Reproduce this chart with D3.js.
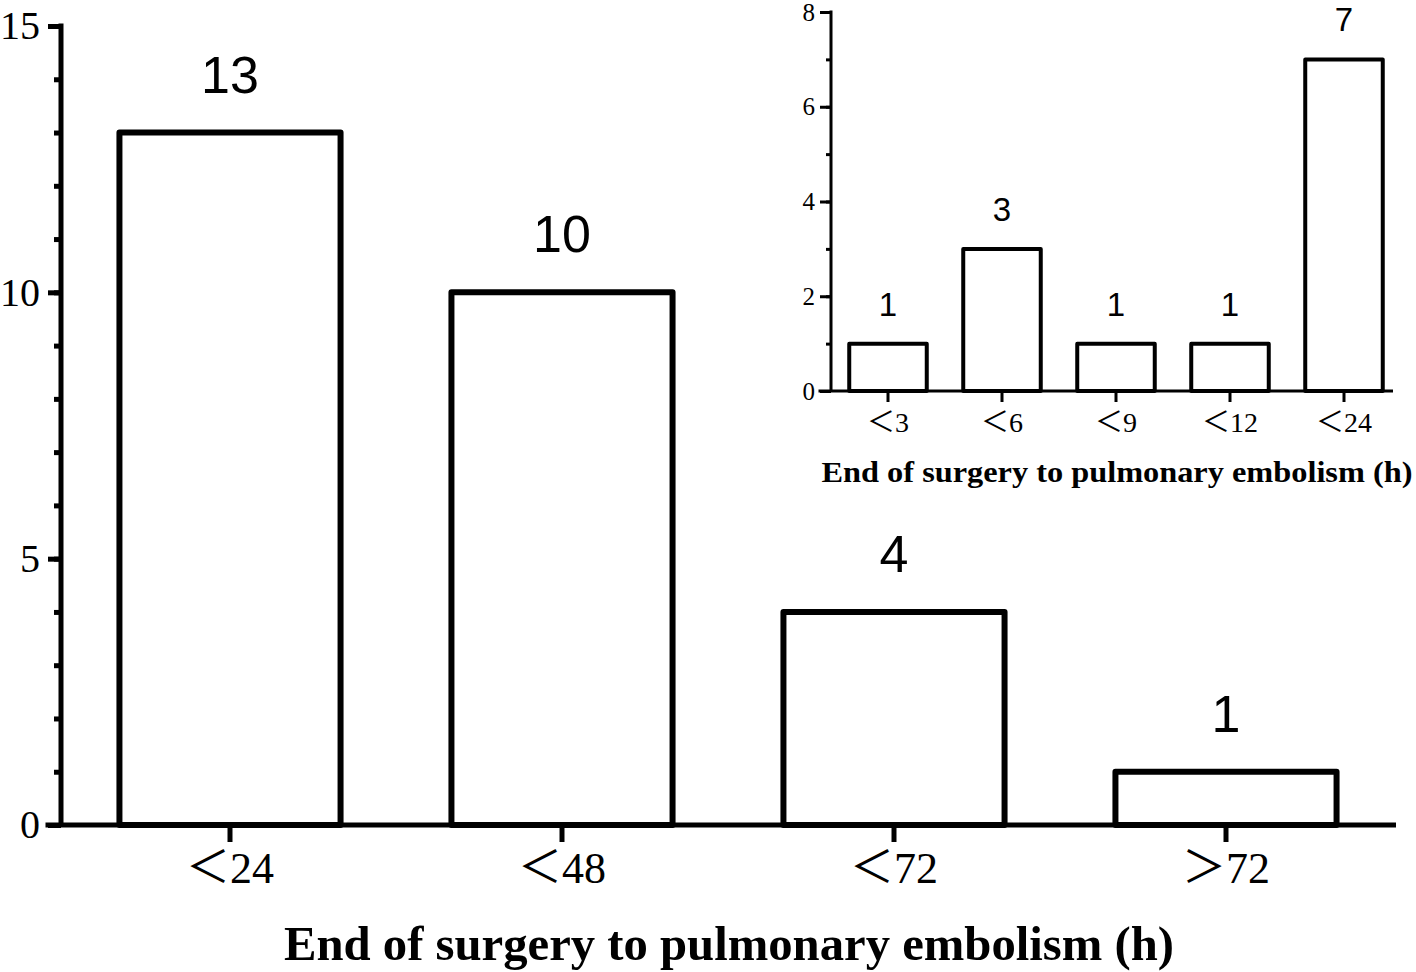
<!DOCTYPE html>
<html><head><meta charset="utf-8">
<script src="https://cdn.jsdelivr.net/npm/d3@7"></script>
<style>body{margin:0;background:#fff}</style></head><body>
<svg id="c" width="1416" height="972"></svg>
<script>
const mainCategories = ["＜24", "＜48", "＜72", "＞72"];
const mainValues = [13, 10, 4, 1];
const mainYTicks = [0, 5, 10, 15];
const insetCategories = ["＜3", "＜6", "＜9", "＜12", "＜24"];
const insetValues = [1, 3, 1, 1, 7];
const insetYTicks = [0, 2, 4, 6, 8];
const xTitle = "End of surgery to pulmonary embolism (h)";

const svg = d3.select("#c");
svg.append("rect").attr("width", 1416).attr("height", 972).attr("fill", "#fff");

function panel(o) {
  const g = svg.append("g");
  const x = d3.scaleBand().domain(o.cats).range(o.xr).paddingInner(o.pin).paddingOuter(o.pin / 2);
  const y = d3.scaleLinear().domain(o.yd).range(o.yr);

  // minor ticks
  const minor = g.append("g").attr("transform", `translate(${o.ax},0)`)
    .call(d3.axisLeft(y).tickValues(d3.range(o.yd[0], o.yd[1] + 1, o.minorStep)).tickSize(o.minorSize).tickFormat("").tickSizeOuter(0));
  minor.select(".domain").remove();
  minor.selectAll(".tick line").attr("stroke", "#000").attr("stroke-width", o.axisW);

  const major = g.append("g").attr("transform", `translate(${o.ax},0)`)
    .call(d3.axisLeft(y).tickValues(o.yticks).tickSize(o.majorSize).tickPadding(o.yPad).tickSizeOuter(0));
  major.select(".domain").attr("stroke", "#000").attr("stroke-width", o.axisW)
    .attr("d", `M0,${o.yr[0]}V${o.yr[1] - o.axisW / 2}`);
  major.selectAll(".tick line").attr("stroke", "#000").attr("stroke-width", o.axisW);
  major.selectAll(".tick text").attr("font-family", "'Liberation Serif', 'DejaVu Serif', serif")
    .attr("font-size", o.yFont).attr("fill", "#000");

  // bars
  g.selectAll("rect.bar").data(o.vals).join("rect").attr("class", "bar")
    .attr("x", (d, i) => x(o.cats[i]))
    .attr("y", d => y(d))
    .attr("width", x.bandwidth())
    .attr("height", d => y(0) - y(d))
    .attr("fill", "#fff").attr("stroke", "#000").attr("stroke-width", o.barW)
    .attr("stroke-linejoin", "round");

  // x axis
  const xa = g.append("g").attr("transform", `translate(0,${y(0)})`)
    .call(d3.axisBottom(x).tickSize(o.xTick).tickPadding(o.xPad).tickSizeOuter(0));
  xa.select(".domain").remove();
  xa.selectAll(".tick line").attr("stroke", "#000").attr("stroke-width", o.axisW);
  xa.selectAll(".tick text").attr("font-family", "'Liberation Serif', 'Noto Sans CJK SC', serif")
    .attr("font-size", o.xFont).attr("fill", "#000");
  g.append("line").attr("x1", o.ax - o.majorSize - o.axisW / 2).attr("x2", o.xEnd)
    .attr("y1", y(0)).attr("y2", y(0)).attr("stroke", "#000").attr("stroke-width", o.axisW);

  // value labels
  g.selectAll("text.val").data(o.vals).join("text").attr("class", "val")
    .attr("x", (d, i) => x(o.cats[i]) + x.bandwidth() / 2)
    .attr("y", d => y(d) - o.valOff)
    .attr("text-anchor", "middle")
    .attr("font-family", "'Liberation Sans', Arial, sans-serif")
    .attr("font-size", o.valFont).attr("fill", "#000")
    .text(d => d);

  // title
  g.append("text").attr("x", o.tx).attr("y", o.ty).attr("text-anchor", "middle")
    .attr("font-family", "'Liberation Serif', 'Times New Roman', serif")
    .attr("font-weight", "bold").attr("font-size", o.tFont).attr("fill", "#000")
    .attr("textLength", o.tLen).attr("lengthAdjust", "spacingAndGlyphs")
    .text(xTitle);
}

panel({
  cats: mainCategories, vals: mainValues, yticks: mainYTicks,
  xr: [64, 1392], pin: 0.334, yd: [0, 15], yr: [825, 26], ax: 61,
  minorStep: 1, minorSize: 7, majorSize: 13, axisW: 5, barW: 6, yPad: 8, yFont: 40,
  xTick: 17, xPad: 10, xFont: 44, xEnd: 1396, valOff: 40, valFont: 52,
  tx: 729, ty: 960, tFont: 48, tLen: 890
});

panel({
  cats: insetCategories, vals: insetValues, yticks: insetYTicks,
  xr: [831, 1401], pin: 0.32, yd: [0, 8], yr: [391, 12], ax: 831,
  minorStep: 1, minorSize: 5, majorSize: 11, axisW: 3, barW: 4, yPad: 5, yFont: 25,
  xTick: 11, xPad: 10, xFont: 28, xEnd: 1393, valOff: 28, valFont: 33,
  tx: 1117, ty: 482, tFont: 30, tLen: 591
});
</script>
</body></html>
